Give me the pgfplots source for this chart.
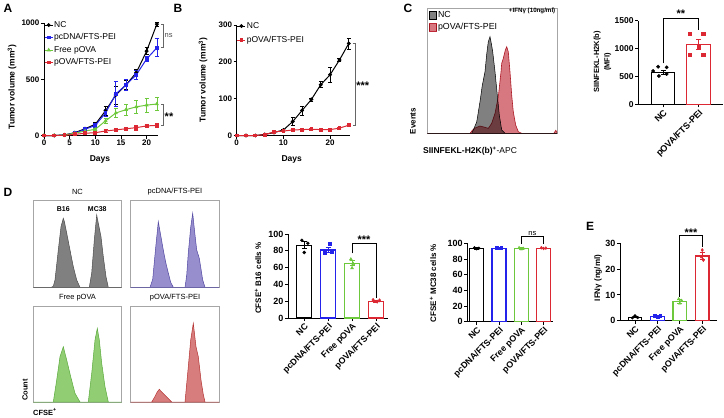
\documentclass[border=0pt]{standalone}
\usepackage{fontspec}
\setmainfont{Liberation Sans}
\usepackage{pgfplots}
\pgfplotsset{compat=1.18}

\definecolor{gblue}{RGB}{35,35,235}
\definecolor{ggreen}{RGB}{110,200,60}
\definecolor{gred}{RGB}{220,40,50}
\definecolor{hgray}{RGB}{128,128,128}
\definecolor{hpink}{RGB}{215,120,128}
\definecolor{hred}{RGB}{190,40,55}
\definecolor{hblue}{RGB}{150,142,205}
\definecolor{hblueline}{RGB}{80,70,160}
\definecolor{hgreen}{RGB}{145,205,115}
\definecolor{hgreenline}{RGB}{90,170,60}
\definecolor{hredb}{RGB}{215,125,125}
\definecolor{hredbline}{RGB}{180,50,50}

\pgfplotsset{
 gp/.style={scale only axis, clip=false, anchor=south west,
   axis lines*=left, axis line style={-, line width=1pt},
   tick align=outside, major tick length=3pt,
   tick style={line width=0.9pt, black},
   ticklabel style={font=\fontsize{8}{9}\selectfont\bfseries, inner sep=1.5pt},
   /pgf/number format/assume math mode=true,
   /pgf/number format/1000 sep={}},
 hist/.style={scale only axis, anchor=south west, ticks=none,
   axis line style={line width=0.6pt, black!35}},
 cat/.style={gp, xtick={0,1,2,3},
   ticklabel style={font=\fontsize{9}{10}\selectfont\bfseries, inner sep=1.5pt},
   xticklabels={NC,pcDNA/FTS-PEI,Free pOVA,pOVA/FTS-PEI},
   xticklabel style={rotate=45, anchor=north east,
     font=\fontsize{8.8}{9}\selectfont\bfseries, inner sep=1pt}},
 ser/.style={#1, line width=1pt, mark size=1.4pt, mark options={solid,fill=#1},
   error bars/.cd, y dir=both, y explicit,
   error bar style={line width=0.7pt},
   error mark options={rotate=90, mark size=2pt, line width=0.7pt}},
}

% bar with error bar: colour, x, mean, err
\newcommand{\gbar}[4]{%
 \addplot[ybar, bar shift=0pt, draw=#1, fill=white, line width=1.2pt,
   error bars/.cd, y dir=both, y explicit,
   error bar style={#1, line width=1pt},
   error mark options={#1, rotate=90, mark size=2.5pt, line width=1pt}]
   coordinates {(#2,#3) +- (0,#4)};}

\begin{document}
\begin{tikzpicture}
\useasboundingbox (0pt,0pt) rectangle (724pt,-418pt);

% ---------------- Panel A ----------------
\begin{axis}[gp, at={(44pt,-135.5pt)}, width=114.4pt, height=112.5pt,
  xmin=0, xmax=22.3, ymin=0, ymax=1000,
  xtick={0,5,10,15,20}, ytick={0,500,1000},
  legend cell align=left,
  legend style={at={(axis description cs:0.0,1.03)}, anchor=north west,
    draw=none, fill=none, inner sep=0pt, row sep=2pt,
    font=\fontsize{8.5}{10}\selectfont,
    nodes={inner sep=1pt, text height=6.5pt, text depth=2pt}},
  legend image code/.code={\draw[#1, mark repeat=2, mark phase=2]
    plot coordinates {(0pt,0pt) (4pt,0pt) (8pt,0pt)};}]
\addplot[mark=*, ser=black] table[x=d, y=m, y error=e] {
d m e
0 0 0
2 0 0
4 5 2
6 25 5
8 60 10
10 100 15
12 220 40
14 360 80
16 450 40
18 560 30
20 750 30
22 990 20
};
\addlegendentry{NC}
\addplot[mark=square*, ser=gblue] table[x=d, y=m, y error=e] {
d m e
0 0 0
2 0 0
4 5 2
6 20 5
8 55 10
10 90 15
12 200 30
14 370 110
16 450 50
18 540 40
20 680 20
22 780 80
};
\addlegendentry{pcDNA/FTS-PEI}
\addplot[mark=triangle*, ser=ggreen] table[x=d, y=m, y error=e] {
d m e
0 0 0
2 0 0
4 5 2
6 20 5
8 40 8
10 55 10
12 130 20
14 200 40
16 230 50
18 255 60
20 270 60
22 280 60
};
\addlegendentry{Free pOVA}
\addplot[mark=square*, ser=gred] table[x=d, y=m, y error=e] {
d m e
0 0 0
2 0 0
4 2 1
6 10 3
8 20 5
10 25 10
12 40 15
14 50 15
16 60 15
18 70 20
20 85 15
22 90 15
};
\addlegendentry{pOVA/FTS-PEI}
\draw[line width=0.7pt, black!60] (axis cs:22.85,990) -- (axis cs:23.25,990) -- (axis cs:23.25,780) -- (axis cs:22.85,780);
\node[anchor=west, font=\fontsize{7.5}{8}\selectfont, text=black!70, inner sep=1pt] at (axis cs:23.3,885) {ns};
\draw[line width=0.7pt, black!60] (axis cs:22.85,280) -- (axis cs:23.25,280) -- (axis cs:23.25,90) -- (axis cs:22.85,90);
\node[anchor=west, font=\fontsize{11}{12}\selectfont\bfseries, inner sep=1pt] at (axis cs:23.3,165) {**};
\end{axis}

% ---------------- Panel B ----------------
\begin{axis}[gp, at={(236.7pt,-135.5pt)}, width=113.5pt, height=110.5pt,
  xmin=0, xmax=24.3, ymin=0, ymax=300,
  xtick={0,10,20}, ytick={0,100,200,300},
  legend cell align=left,
  legend style={at={(axis description cs:0.0,1.04)}, anchor=north west,
    draw=none, fill=none, inner sep=0pt, row sep=3.5pt,
    font=\fontsize{8.5}{10}\selectfont,
    nodes={inner sep=1pt, text height=6.5pt, text depth=2pt}},
  legend image code/.code={\draw[#1, mark repeat=2, mark phase=2]
    plot coordinates {(0pt,0pt) (4pt,0pt) (8pt,0pt)};}]
\addplot[mark=*, ser=black] table[x=d, y=m, y error=e] {
d m e
0 0 0
2 0 0
4 0 0
6 3 1
8 8 2
10 15 3
12 38 10
14 68 12
16 98 4
18 138 8
20 165 20
22 205 4
24 250 15
};
\addlegendentry{NC}
\addplot[mark=square*, ser=gred] table[x=d, y=m, y error=e] {
d m e
0 0 0
2 0 0
4 0 0
6 2 1
8 10 2
10 12 2
12 15 2
14 16 2
16 17 2
18 16 2
20 16 2
22 20 2
24 28 3
};
\addlegendentry{pOVA/FTS-PEI}
\draw[line width=0.7pt, black!60] (axis cs:24.8,250) -- (axis cs:25.3,250) -- (axis cs:25.3,28) -- (axis cs:24.8,28);
\node[anchor=west, font=\fontsize{11}{12}\selectfont\bfseries, inner sep=1pt] at (axis cs:25.35,135) {***};
\end{axis}

% ---------------- Panel C histogram ----------------
\begin{axis}[hist, at={(427.3pt,-133.3pt)}, width=129.7pt, height=125pt,
  xmin=0, xmax=129.7, ymin=0, ymax=125,
  legend cell align=left,
  legend style={at={(axis description cs:0.01,0.985)}, anchor=north west,
    draw=none, fill=none, inner sep=0pt, row sep=1.5pt,
    font=\fontsize{8.8}{10}\selectfont,
    nodes={inner sep=1pt, text height=6.5pt, text depth=2pt}},
  legend image code/.code={\draw[#1, line width=0.8pt] (0pt,-3.8pt) rectangle (7.5pt,3.8pt);}]
\addplot[fill=hgray, draw=black, line width=0.5pt] coordinates {
(0,0) (44.4,0) (46,3.3) (49.4,11.3) (52.7,31.6) (55,48) (57.7,61.6) (59.5,80) (61,91.6) (62.7,96.6) (64,90) (65.4,81.6) (67.7,61.6) (70,38.3) (72,18.3) (74.4,3.3) (77.7,0) (129.7,0)} \closedcycle;
\addlegendentry{NC}
\addplot[fill=hpink, draw=hred, line width=0.6pt, blend mode=multiply] coordinates {
(0,0) (42.7,0) (45,3) (47.7,5.3) (52.7,7.3) (57.7,6) (61,5) (64.4,10) (67.7,20) (71,36.6) (73.7,61.6) (74.4,70) (76,75) (78,83.3) (79.4,86.6) (81,81.6) (82.7,61.6) (84.4,38.3) (86,21.6) (88.4,8.3) (91,1.6) (94.4,0) (126.5,0) (128.5,3) (129.7,1)} \closedcycle;
\addlegendentry{pOVA/FTS-PEI}
\end{axis}
\node[anchor=east, font=\fontsize{6.2}{7}\selectfont\bfseries, inner sep=1pt] at (556.5pt,-10.5pt) {+IFNγ (10ng/ml)};
\node[rotate=90, font=\fontsize{8}{9}\selectfont\bfseries] at (413pt,-121pt) {Events};
\node[anchor=west, font=\fontsize{8.5}{9}\selectfont, inner sep=0pt] at (423pt,-151pt) {\textbf{SIINFEKL-H2K(b)\textsuperscript{+}}-APC};

% ---------------- Panel C bar ----------------
\begin{axis}[gp, at={(638.3pt,-104.3pt)}, width=85pt, height=83.6pt,
  xmin=-0.7, xmax=1.7, ymin=0, ymax=1500, bar width=23.5pt,
  ticklabel style={font=\fontsize{8.5}{10}\selectfont\bfseries, inner sep=1.5pt},
  ytick={0,500,1000,1500}, xtick={0,1}, xticklabels={NC,pOVA/FTS-PEI},
  xticklabel style={rotate=45, anchor=north east,
     font=\fontsize{9}{10}\selectfont\bfseries, inner sep=1pt}]
\gbar{black}{0}{574}{40}
\gbar{gred}{1}{1076}{90}
\addplot[only marks, mark=*, mark size=1.7pt, black] coordinates {(-0.14,675) (0.1,663) (-0.28,598) (-0.12,508) (0.1,544)};
\addplot[only marks, mark=square*, mark size=1.6pt, gred] coordinates {(0.75,1273) (1.13,1273) (1,1034) (0.75,885) (1.13,885)};
\draw[line width=0.8pt] (axis cs:0,735) |- (axis cs:1,1542) -- (axis cs:1,1333);
\node[anchor=south, font=\fontsize{11}{12}\selectfont\bfseries, inner sep=0pt] at (axis cs:0.5,1560) {**};
\end{axis}
\node[rotate=90, align=center, font=\fontsize{7.5}{10.5}\selectfont\bfseries] at (602.5pt,-62pt) {SIINFEKL-H2K(b)\\(MFI)};

% ---------------- Panel D histograms ----------------
\begin{axis}[hist, at={(33.3pt,-287.3pt)}, width=88.4pt, height=87.3pt,
  xmin=0, xmax=88.4, ymin=0, ymax=87.3]
\addplot[fill=hgray, draw=black!70, line width=0.5pt] coordinates {
(0,0) (18,0) (20,1) (21.7,7.3) (25,37.3) (27.7,60.6) (30,69) (31,66) (33.4,54.3) (36.7,37.3) (40,20.6) (43.4,7.3) (46.7,0) (56,0) (58.4,14.3) (61,47.3) (63.4,72.3) (65,64) (67.7,50.6) (70,30.6) (72.7,10.6) (75,0) (88.4,0)} \closedcycle;
\end{axis}
\begin{axis}[hist, at={(130.7pt,-287.3pt)}, width=88.4pt, height=87.3pt,
  xmin=0, xmax=88.4, ymin=0, ymax=87.3]
\addplot[fill=hblue, draw=hblueline, line width=0.5pt] coordinates {
(0,0) (19.3,0) (22,8) (25,40) (27.6,65.6) (30,52) (32.6,37.3) (35,25) (37.6,14.3) (40,5) (42.6,0) (54.3,0) (56,12) (57.6,34.3) (60,60) (62,74) (64,55) (66,37.3) (68.6,29) (70.5,17) (72,7.3) (74.3,0) (88.4,0)} \closedcycle;
\end{axis}
\begin{axis}[hist, at={(33.3pt,-402pt)}, width=88.4pt, height=96pt,
  xmin=0, xmax=88.4, ymin=0, ymax=96]
\addplot[fill=hgreen, draw=hgreenline, line width=0.5pt] coordinates {
(0,0) (20,0) (23.4,22) (26.7,45.3) (30,55.3) (33.4,42) (37.4,25.3) (41.7,8.7) (46.7,0) (55,0) (58.4,28.7) (61.7,62) (64,73.7) (66,62) (68.4,38.7) (71.7,15.3) (75,0) (88.4,0)} \closedcycle;
\end{axis}
\begin{axis}[hist, at={(130.7pt,-402pt)}, width=88.4pt, height=96pt,
  xmin=0, xmax=88.4, ymin=0, ymax=96]
\addplot[fill=hredb, draw=hredbline, line width=0.5pt] coordinates {
(0,0) (21,0) (24,5) (26.5,10) (28.6,12.7) (31,10) (34,7) (37,4) (41,0) (54.3,0) (57.6,35.3) (60,62) (62.6,78.7) (65.3,55.3) (67.6,45.3) (70.3,22) (72.5,8) (74.3,0) (88.4,0)} \closedcycle;
\end{axis}
\node[font=\fontsize{7.5}{8}\selectfont] at (77.5pt,-192pt) {NC};
\node[font=\fontsize{7.5}{8}\selectfont] at (175pt,-192pt) {pcDNA/FTS-PEI};
\node[font=\fontsize{7.5}{8}\selectfont] at (77.5pt,-298pt) {Free pOVA};
\node[font=\fontsize{7.5}{8}\selectfont] at (175pt,-298pt) {pOVA/FTS-PEI};
\node[font=\fontsize{7}{8}\selectfont\bfseries] at (63.3pt,-209pt) {B16};
\node[font=\fontsize{7}{8}\selectfont\bfseries] at (97.3pt,-209pt) {MC38};
\node[rotate=90, font=\fontsize{7.5}{8}\selectfont\bfseries] at (25pt,-390pt) {Count};
\node[anchor=west, font=\fontsize{7.5}{8}\selectfont\bfseries, inner sep=0pt] at (33pt,-412pt) {CFSE\textsuperscript{+}};

% ---------------- Panel D bar B16 ----------------
\begin{axis}[cat, at={(288pt,-318pt)}, width=100.4pt, height=84pt,
  xmin=-0.68, xmax=3.52, ymin=0, ymax=100, ytick={0,20,...,100}, bar width=15pt]
\gbar{black}{0}{86.5}{4}
\gbar{gblue}{1}{81}{3.5}
\gbar{ggreen}{2}{65}{3}
\gbar{gred}{3}{19.5}{1}
\addplot[only marks, mark=*, mark size=1.5pt, black] coordinates {(-0.1,92.5) (0.15,89) (0,78)};
\addplot[only marks, mark=square*, mark size=1.4pt, gblue] coordinates {(1.05,88.5) (0.85,77.5) (1.15,78.5)};
\addplot[only marks, mark=triangle*, mark size=1.7pt, ggreen] coordinates {(1.95,70) (2.05,64.5) (2,59.5)};
\addplot[only marks, mark=diamond*, mark size=1.7pt, gred] coordinates {(2.88,21.5) (3.05,19.5) (3.15,21)};
\draw[line width=0.8pt] (axis cs:2,77) |- (axis cs:3,89) -- (axis cs:3,24);
\node[anchor=south, font=\fontsize{11}{12}\selectfont\bfseries, inner sep=0pt] at (axis cs:2.5,88) {***};
\end{axis}
\node[rotate=90, font=\fontsize{8}{9}\selectfont\bfseries] at (258pt,-278pt) {CFSE\textsuperscript{+} B16 cells \%};

% ---------------- Panel D bar MC38 ----------------
\begin{axis}[cat, at={(467.3pt,-321.7pt)}, width=85.9pt, height=78.3pt,
  xmin=-0.42, xmax=3.43, ymin=0, ymax=100, ytick={0,20,...,100}, bar width=14pt]
\gbar{black}{0}{93.5}{0.7}
\gbar{gblue}{1}{94}{0.5}
\gbar{ggreen}{2}{93.5}{0.8}
\gbar{gred}{3}{93.5}{0.5}
\addplot[only marks, mark=*, mark size=1.3pt, black] coordinates {(-0.1,94.5) (0.1,94) (0,93)};
\addplot[only marks, mark=square*, mark size=1.2pt, gblue] coordinates {(0.9,94.5) (1.1,94.5) (1,93.5)};
\addplot[only marks, mark=triangle*, mark size=1.5pt, ggreen] coordinates {(1.9,94.5) (2.1,93.5) (2,92.5)};
\addplot[only marks, mark=diamond*, mark size=1.5pt, gred] coordinates {(2.9,94.5) (3.1,94) (3,93.5)};
\draw[line width=0.7pt] (axis cs:2,99.5) |- (axis cs:3,108.5) -- (axis cs:3,99.5);
\node[anchor=south, font=\fontsize{7.5}{8}\selectfont, inner sep=1pt] at (axis cs:2.5,109) {ns};
\end{axis}
\node[rotate=90, font=\fontsize{8}{9}\selectfont\bfseries] at (433pt,-283pt) {CFSE\textsuperscript{+} MC38 cells \%};

% ---------------- Panel E ----------------
\begin{axis}[cat, at={(620pt,-320.7pt)}, width=96.8pt, height=77.4pt,
  xmin=-0.67, xmax=3.65, ymin=0, ymax=30, ytick={0,10,20,30}, bar width=13.5pt]
\gbar{black}{0}{1.3}{0.2}
\gbar{gblue}{1}{1.75}{0.2}
\gbar{ggreen}{2}{7.5}{0.8}
\gbar{gred}{3}{25.1}{1.2}
\addplot[only marks, mark=*, mark size=1.4pt, black] coordinates {(0,1.9) (-0.12,1.1) (0.12,1.2)};
\addplot[only marks, mark=square*, mark size=1.3pt, gblue] coordinates {(0.88,1.9) (1.12,2.0) (1,1.5)};
\addplot[only marks, mark=triangle*, mark size=1.6pt, ggreen] coordinates {(1.95,8.4) (2.08,7.8) (2,6.7)};
\addplot[only marks, mark=diamond*, mark size=1.6pt, gred] coordinates {(3,27.4) (2.95,24.8) (3.05,23.5)};
\draw[line width=0.8pt] (axis cs:2,9.3) |- (axis cs:3,33) -- (axis cs:3,28.7);
\node[anchor=south, font=\fontsize{11}{12}\selectfont\bfseries, inner sep=0pt] at (axis cs:2.5,32.6) {***};
\end{axis}
\node[rotate=90, font=\fontsize{8}{9}\selectfont\bfseries] at (598pt,-278pt) {IFNγ (ng/ml)};

% ---------------- Labels row 1 ----------------
\node[rotate=90, font=\fontsize{8.5}{9}\selectfont\bfseries] at (12pt,-87pt) {Tumor volume (mm\textsuperscript{3})};
\node[rotate=90, font=\fontsize{8.5}{9}\selectfont\bfseries] at (203pt,-80pt) {Tumor volume (mm\textsuperscript{3})};
\node[font=\fontsize{8.5}{9}\selectfont\bfseries] at (100pt,-159pt) {Days};
\node[font=\fontsize{8.5}{9}\selectfont\bfseries] at (291.7pt,-159pt) {Days};

% panel letters
\node[font=\fontsize{12}{13}\selectfont\bfseries] at (8pt,-8pt) {A};
\node[font=\fontsize{12}{13}\selectfont\bfseries] at (178pt,-8pt) {B};
\node[font=\fontsize{12}{13}\selectfont\bfseries] at (408pt,-8pt) {C};
\node[font=\fontsize{12}{13}\selectfont\bfseries] at (8pt,-192pt) {D};
\node[font=\fontsize{12}{13}\selectfont\bfseries] at (590pt,-226pt) {E};
\end{tikzpicture}
\end{document}
